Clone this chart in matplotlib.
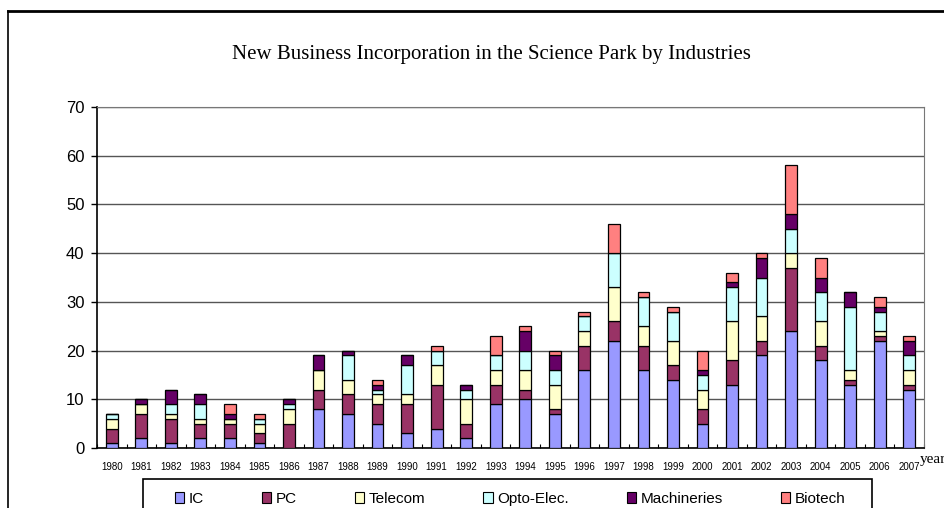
import numpy as np
from matplotlib import pyplot as plt
from matplotlib.patches import Rectangle
from matplotlib.lines import Line2D

# data
years = [str(y) for y in range(1980, 2008)]
ic = [1, 2, 1, 2, 2, 1, 0, 8, 7, 5, 3, 4, 2, 9, 10, 7, 16, 22, 16, 14, 5, 13, 19, 24, 18, 13, 22, 12]
pc = [3, 5, 5, 3, 3, 2, 5, 4, 4, 4, 6, 9, 3, 4, 2, 1, 5, 4, 5, 3, 3, 5, 3, 13, 3, 1, 1, 1]
telecom = [2, 2, 1, 1, 1, 2, 3, 4, 3, 2, 2, 4, 5, 3, 4, 5, 3, 7, 4, 5, 4, 8, 5, 3, 5, 2, 1, 3]
opto = [1, 0, 2, 3, 0, 1, 1, 0, 5, 1, 6, 3, 2, 3, 4, 3, 3, 7, 6, 6, 3, 7, 8, 5, 6, 13, 4, 3]
mach = [0, 1, 3, 2, 1, 0, 1, 3, 1, 1, 2, 0, 1, 0, 4, 3, 0, 0, 0, 0, 1, 1, 4, 3, 3, 3, 1, 3]
bio = [0, 0, 0, 0, 2, 1, 0, 0, 0, 1, 0, 1, 0, 4, 1, 1, 1, 6, 1, 1, 4, 2, 1, 10, 4, 0, 2, 1]

series = [ic, pc, telecom, opto, mach, bio]
names = ["IC", "PC", "Telecom", "Opto-Elec.", "Machineries", "Biotech"]
colors = ["#9999FF", "#993366", "#FFFFCC", "#CCFFFF", "#660066", "#FF8080"]

plt.rcParams["font.family"] = ["Liberation Sans", "DejaVu Sans"]

fig = plt.figure(figsize=(9.45, 5.08), dpi=100)
ax = fig.add_axes([97 / 945, 1 - 448 / 508, 827 / 945, 341 / 508])

x = np.arange(len(years))
bottom = np.zeros(len(years))
for vals, name, c in zip(series, names, colors):
    ax.bar(x, vals, width=0.4, bottom=bottom, color=c, edgecolor="black",
           linewidth=0.9, label=name, zorder=3)
    bottom += np.array(vals)

ax.set_xlim(-0.5, len(years) - 0.5)
ax.set_ylim(0, 70)
ax.set_yticks(range(0, 71, 10))
ax.tick_params(axis="y", labelsize=12, length=4, width=1, direction="out", pad=5)
ax.set_xticks(x)
ax.set_xticklabels(years, fontsize=7)
ax.tick_params(axis="x", length=0, pad=10)
ax.set_xticks(np.arange(-0.5, len(years), 1), minor=True)
ax.tick_params(axis="x", which="minor", length=3, direction="in", width=0.8)
ax.yaxis.grid(True, color="#555555", linewidth=1, zorder=0)
ax.set_axisbelow(True)
ax.spines["top"].set_color("#777777")
ax.spines["right"].set_color("#777777")
ax.spines["left"].set_linewidth(1.2)
ax.spines["bottom"].set_linewidth(1.2)

# title and axis name
fig.text(491 / 945, 1 - 54 / 508, "New Business Incorporation in the Science Park by Industries",
         family="Liberation Serif", fontsize=15, ha="center", va="center")
fig.text(920 / 945, 1 - 460 / 508, "year", family="Liberation Serif", fontsize=11,
         ha="left", va="center")

# outer frame
fig.add_artist(Line2D([8 / 945, 8 / 945], [0, 1 - 11 / 508], color="black", linewidth=1.2))
fig.add_artist(Line2D([8 / 945, 1], [1 - 11 / 508, 1 - 11 / 508], color="black", linewidth=2))

# legend box
fig.add_artist(Rectangle((143 / 945, -0.05), 729 / 945, 0.05 + 1 - 479 / 508,
                         transform=fig.transFigure, fill=False, edgecolor="black", linewidth=1.2))
handles = [Rectangle((0, 0), 1, 1, facecolor=c, edgecolor="black", linewidth=0.8) for c in colors]
fig.legend(handles, names, loc="center left", bbox_to_anchor=(175 / 945, 1 - 499 / 508),
           ncol=6, frameon=False, fontsize=11, handlelength=0.6, handleheight=0.7,
           handletextpad=0.3, columnspacing=3.8, borderaxespad=0, borderpad=0)

plt.savefig("out.png", dpi=100)
